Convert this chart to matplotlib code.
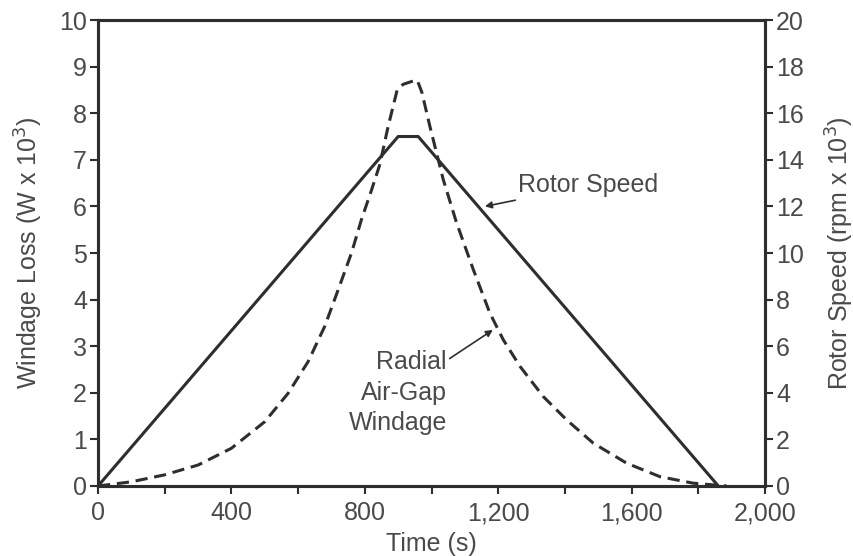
import matplotlib.pyplot as plt
import numpy as np

plt.rcParams['font.family'] = ['Liberation Sans', 'DejaVu Sans']
plt.rc('font', size=18)

ink = '#2e2e2e'
txt = '#4a4a4a'

# rotor speed (rpm x 10^3)
speed_t = [0, 900, 960, 1860]
speed_rpm = [0, 15, 15, 0]

# radial air-gap windage loss (W x 10^3)
wind_t = [0, 100, 200, 300, 400, 500, 570, 630, 680, 720, 760, 790, 820, 845,
          870, 897, 915, 940, 957, 971, 995, 1035, 1075, 1125, 1175, 1215,
          1265, 1335, 1405, 1485, 1585, 1685, 1785, 1885]
wind_w = [0, 0.09, 0.24, 0.45, 0.81, 1.38, 1.99, 2.67, 3.43, 4.21, 5.0, 5.72,
          6.35, 6.9, 7.72, 8.5, 8.62, 8.68, 8.71, 8.45, 7.72, 6.58, 5.65,
          4.65, 3.71, 3.14, 2.57, 1.92, 1.42, 0.92, 0.49, 0.2, 0.06, 0]

x_ticks = [0, 400, 800, 1200, 1600, 2000]
x_labels = ['0', '400', '800', '1,200', '1,600', '2,000']

fig = plt.figure(figsize=(8.54, 5.56), dpi=100)
ax1 = fig.add_axes([0.1148, 0.1259, 0.7810, 0.8381])
ax2 = ax1.twinx()

ax1.plot(wind_t, wind_w, color=ink, lw=2.2, linestyle=(0, (4, 2.2)))
ax2.plot(speed_t, speed_rpm, color=ink, lw=2.2)

ax1.set_xlim(0, 2000)
ax1.set_ylim(0, 10)
ax2.set_ylim(0, 20)
ax1.set_xticks(x_ticks)
ax1.set_xticklabels(x_labels)
ax1.set_xticks(np.arange(200, 2000, 400), minor=True)
ax1.set_yticks(np.arange(0, 11, 1))
ax2.set_yticks(np.arange(0, 21, 2))

ax1.set_xlabel('Time (s)', color=txt, labelpad=5)
ax1.set_ylabel('Windage Loss (W x 10$^3$)', color=txt, labelpad=10)
ax2.set_ylabel('Rotor Speed (rpm x 10$^3$)', color=txt, labelpad=14)

for ax in (ax1, ax2):
    for s in ax.spines.values():
        s.set_linewidth(2.2)
        s.set_color(ink)
    ax.tick_params(which='both', direction='out', length=6, width=1.5,
                   color=ink, labelcolor=txt, pad=2)
ax1.tick_params(axis='x', which='both', pad=5)

ax1.annotate('Rotor Speed', xy=(1160, 6.0), xytext=(1259, 6.45),
             color=txt, va='center', ha='left',
             arrowprops=dict(arrowstyle='-|>', color=ink, lw=1.2,
                             mutation_scale=10, shrinkA=0, shrinkB=0))
ax1.annotate('Radial\nAir-Gap\nWindage', xy=(1184, 3.35), xytext=(1046, 2.0),
             color=txt, va='center', ha='right', multialignment='right',
             linespacing=1.35,
             arrowprops=dict(arrowstyle='-|>', color=ink, lw=1.2,
                             mutation_scale=10, shrinkA=0, shrinkB=0,
                             relpos=(1.0, 0.88)))

fig.savefig('out.png', dpi=100)
